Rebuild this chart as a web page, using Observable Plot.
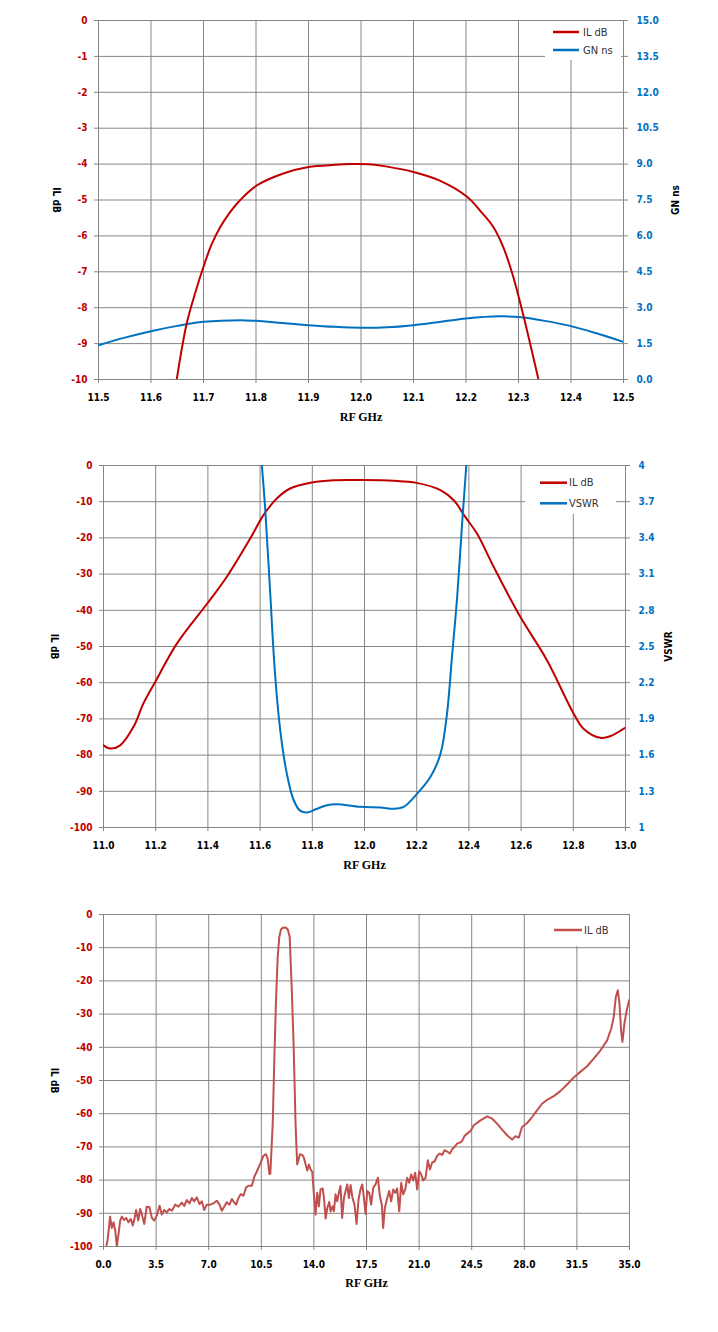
<!DOCTYPE html>
<html><head><meta charset="utf-8">
<script src="https://cdn.jsdelivr.net/npm/d3@7"></script>
<script src="https://cdn.jsdelivr.net/npm/@observablehq/plot@0.6"></script>
<style>
body{margin:0;background:#fff;}
svg{display:block}
</style></head><body><div id="c"></div>
<script>
// ---------- Chart 1 data: passband IL (dB) and group delay (ns) ----------
const x1Ticks = [11.5, 11.6, 11.7, 11.8, 11.9, 12.0, 12.1, 12.2, 12.3, 12.4, 12.5];
const y1Ticks = [0, -1, -2, -3, -4, -5, -6, -7, -8, -9, -10];
const gn1Ticks = [0, 1.5, 3, 4.5, 6, 7.5, 9, 10.5, 12, 13.5, 15];
const il1 = [[11.649,-10],[11.668,-8.44],[11.685,-7.55],[11.70,-6.86],[11.715,-6.25],[11.732,-5.75],[11.750,-5.35],[11.770,-5.0],[11.802,-4.59],[11.852,-4.26],[11.90,-4.08],[11.95,-4.02],[11.98,-4.0],[12.02,-4.01],[12.05,-4.07],[12.10,-4.22],[12.15,-4.46],[12.202,-4.91],[12.23,-5.35],[12.252,-5.75],[12.271,-6.31],[12.29,-7.14],[12.31,-8.26],[12.338,-10]];
const gn1 = [[11.5,1.43],[11.55,1.75],[11.6,2.02],[11.65,2.24],[11.7,2.41],[11.77,2.48],[11.8,2.45],[11.85,2.36],[11.9,2.27],[11.95,2.2],[12.0,2.16],[12.05,2.18],[12.1,2.27],[12.15,2.4],[12.2,2.55],[12.265,2.64],[12.3,2.61],[12.35,2.45],[12.4,2.23],[12.45,1.92],[12.5,1.57]];
const legend1 = ["IL dB", "GN ns"];

// ---------- Chart 2 data: IL (dB) and VSWR ----------
const x2Ticks = [11.0, 11.2, 11.4, 11.6, 11.8, 12.0, 12.2, 12.4, 12.6, 12.8, 13.0];
const y2Ticks = [0, -10, -20, -30, -40, -50, -60, -70, -80, -90, -100];
const vs2Ticks = [1, 1.3, 1.6, 1.9, 2.2, 2.5, 2.8, 3.1, 3.4, 3.7, 4];
const il2 = [[11.0,-77.3],[11.026,-78.2],[11.064,-77.3],[11.115,-72.2],[11.153,-65.7],[11.198,-59.8],[11.281,-49.2],[11.402,-37.7],[11.472,-30.8],[11.562,-20.2],[11.613,-13.7],[11.664,-9.1],[11.715,-6.35],[11.798,-4.7],[11.881,-4.05],[11.983,-4.0],[12.112,-4.2],[12.2,-4.8],[12.291,-6.8],[12.342,-9.6],[12.386,-14.2],[12.431,-18.8],[12.495,-28.0],[12.597,-41.8],[12.699,-53.8],[12.801,-68.5],[12.839,-72.7],[12.903,-75.2],[12.941,-74.8],[13.0,-72.4]];
const vs2 = [[11.600,4.25],[11.607,4.0],[11.619,3.66],[11.638,2.97],[11.657,2.28],[11.677,1.81],[11.702,1.45],[11.728,1.23],[11.753,1.14],[11.779,1.124],[11.811,1.149],[11.856,1.185],[11.894,1.193],[11.983,1.171],[12.061,1.166],[12.112,1.155],[12.15,1.171],[12.2,1.276],[12.253,1.42],[12.291,1.61],[12.316,1.94],[12.335,2.41],[12.355,2.91],[12.374,3.52],[12.39,4.0],[12.396,4.25]];
const legend2 = ["IL dB", "VSWR"];

// ---------- Chart 3 data: wideband IL (dB) ----------
const x3Ticks = [0, 3.5, 7, 10.5, 14, 17.5, 21, 24.5, 28, 31.5, 35];
const y3Ticks = [0, -10, -20, -30, -40, -50, -60, -70, -80, -90, -100];
const il3 = [[0.18,-100],[0.27,-98.2],[0.44,-91],[0.55,-94.4],[0.67,-92.7],[0.78,-95.2],[0.89,-100],[1.0,-96.2],[1.11,-92.2],[1.22,-91],[1.37,-92],[1.51,-91.4],[1.66,-92.7],[1.82,-91.7],[1.95,-93.7],[2.08,-91.2],[2.17,-89],[2.31,-92.2],[2.44,-88.7],[2.57,-90.7],[2.71,-93.2],[2.88,-88],[3.06,-88.2],[3.22,-91.4],[3.37,-92.2],[3.55,-90.7],[3.73,-87.7],[3.88,-90.4],[4.04,-89],[4.21,-89.7],[4.39,-88.7],[4.55,-89.2],[4.77,-87.4],[4.99,-88],[5.21,-86.8],[5.37,-87.8],[5.54,-86],[5.72,-87],[5.88,-85.4],[6.03,-86.4],[6.21,-85.2],[6.39,-87.2],[6.54,-86.4],[6.70,-89],[6.87,-87.4],[7.10,-87.4],[7.32,-87],[7.54,-86.2],[7.72,-87.4],[7.87,-89.2],[8.03,-88],[8.20,-86.7],[8.38,-87.4],[8.54,-85.7],[8.69,-86.7],[8.82,-87.4],[8.98,-85.4],[9.14,-84.2],[9.31,-84.7],[9.49,-82.2],[9.65,-81.7],[9.87,-81.7],[10.02,-79.2],[10.20,-77.4],[10.42,-75.2],[10.64,-72.7],[10.81,-72.2],[10.93,-73.7],[11.04,-78.2],[11.10,-78.1],[11.26,-63],[11.37,-42.9],[11.48,-25.8],[11.59,-12.8],[11.70,-6.7],[11.81,-4.5],[11.93,-4.0],[12.04,-3.9],[12.15,-4.0],[12.26,-4.5],[12.39,-6.7],[12.53,-22.8],[12.64,-37.9],[12.72,-52],[12.78,-63],[12.84,-70],[12.89,-75.3],[13.07,-72.2],[13.22,-72.4],[13.33,-73.2],[13.45,-75.3],[13.56,-77.1],[13.67,-75.3],[13.78,-76.8],[13.89,-77.5],[14.0,-84.3],[14.11,-90.4],[14.22,-83.8],[14.33,-87.9],[14.44,-82.8],[14.58,-82.5],[14.67,-85.4],[14.78,-91.6],[14.89,-88.4],[15.02,-86.6],[15.11,-89.4],[15.24,-87.9],[15.33,-89.4],[15.44,-84.3],[15.55,-86.4],[15.66,-83.8],[15.77,-81.8],[15.88,-91.4],[16.0,-85.4],[16.11,-83.3],[16.22,-81.3],[16.33,-85.4],[16.44,-81.5],[16.57,-85.4],[16.7,-87.4],[16.84,-93.2],[16.97,-85.9],[17.1,-82.8],[17.22,-81.3],[17.33,-85.4],[17.44,-90.2],[17.55,-83.3],[17.68,-83.8],[17.81,-87.4],[17.95,-82.3],[18.1,-81.3],[18.26,-79.3],[18.39,-84.8],[18.52,-87.4],[18.61,-94.4],[18.72,-88.4],[18.88,-85.4],[19.01,-83.3],[19.14,-86.4],[19.28,-82.8],[19.41,-83.8],[19.54,-82.5],[19.68,-89.4],[19.81,-80.8],[19.94,-84.3],[20.08,-82.8],[20.21,-79.3],[20.34,-80.8],[20.47,-78.3],[20.61,-80.1],[20.74,-77.8],[20.87,-82.8],[21.01,-77.3],[21.14,-78.3],[21.27,-80.1],[21.43,-79.3],[21.58,-74.0],[21.72,-76.8],[21.87,-74.7],[22.03,-74.4],[22.2,-72.7],[22.38,-72.0],[22.54,-72.4],[22.69,-71],[22.87,-71.4],[23.05,-72],[23.2,-70.7],[23.36,-70],[23.53,-69],[23.71,-68.7],[23.87,-68.2],[24.02,-66.7],[24.2,-66],[24.42,-65.2],[24.64,-63.5],[25.08,-62],[25.53,-60.8],[25.86,-61.5],[26.19,-63],[26.52,-64.8],[26.86,-66.5],[27.19,-67.8],[27.41,-66.8],[27.63,-67.2],[27.85,-64],[28.19,-62.8],[28.52,-61],[28.85,-59],[29.18,-57],[29.52,-55.8],[29.96,-54.7],[30.4,-53.2],[30.85,-51.2],[31.29,-49.1],[31.73,-47.4],[32.18,-45.7],[32.62,-43.4],[33.07,-40.9],[33.51,-37.9],[33.78,-34.4],[33.95,-30.9],[34.09,-24.8],[34.22,-22.8],[34.33,-26.8],[34.44,-34.9],[34.53,-38.4],[34.66,-32.9],[34.84,-28.3],[35.0,-25.6]];
const legend3 = ["IL dB"];

const xTitle = "RF GHz";
const ilTitle = "IL dB", gnTitle = "GN ns", vsTitle = "VSWR";

// ---------- styling ----------
const GRID = "#868686", RED = "#C00000", BLUE = "#0070C0", RED3 = "#C0504D";
const FONT = "'DejaVu Sans Condensed','DejaVu Sans',sans-serif";
const SERIF = "'Liberation Serif','DejaVu Serif',serif";

// right-axis mappings onto the left (dB) scale
const gnToY = v => v / 1.5 - 10;
const yToGn = d => ((d + 10) * 1.5).toFixed(1);
const vsToY = v => (v - 1) / 3 * 100 - 100;
const yToVs = d => String(Math.round(((d + 100) / 100 * 3 + 1) * 10) / 10);

function frameMarks(xT, yT, xDom, yDom) {
  return [
    Plot.gridX({ticks: xT, stroke: GRID, strokeOpacity: 1, strokeWidth: 1}),
    Plot.gridY({ticks: yT, stroke: GRID, strokeOpacity: 1, strokeWidth: 1}),
    Plot.ruleX([xDom[0]], {stroke: GRID}),
    Plot.ruleY([yDom[0]], {stroke: GRID}),
    Plot.axisX({ticks: xT, tickSize: 4, tickPadding: 10, stroke: GRID, fill: "black", fontWeight: "bold", tickFormat: d => d.toFixed(1), label: null}),
    Plot.axisY({ticks: yT, anchor: "left", tickSize: 4, tickPadding: 7, stroke: GRID, fill: RED, fontWeight: "bold", tickFormat: d => String(d), label: null})
  ];
}
function titleMarks(dxL, rightTitle, dxR, dyB) {
  const m = [
    Plot.text([ilTitle], {text: d => d, frameAnchor: "left", dx: dxL, rotate: 90, textAnchor: "middle", lineAnchor: "middle", fontWeight: "bold", fontSize: 10, fill: "black"}),
    Plot.text([xTitle], {text: d => d, frameAnchor: "bottom", dy: dyB, textAnchor: "middle", lineAnchor: "middle", fontFamily: SERIF, fontWeight: "bold", fontSize: 12, fill: "black"})
  ];
  if (rightTitle) m.push(Plot.text([rightTitle], {text: d => d, frameAnchor: "right", dx: dxR, rotate: -90, textAnchor: "middle", lineAnchor: "middle", fontWeight: "bold", fontSize: 10, fill: "black"}));
  return m;
}
function addLegend(svg, box, items) {
  const g = d3.select(svg).append("g").attr("text-anchor", "start");
  g.append("rect").attr("x", box.x).attr("y", box.y).attr("width", box.w).attr("height", box.h).attr("fill", "white");
  items.forEach(it => {
    g.append("line").attr("x1", box.lx1).attr("x2", box.lx2).attr("y1", it.y).attr("y2", it.y)
      .attr("stroke", it.color).attr("stroke-width", 2.5);
    g.append("text").attr("x", box.tx).attr("y", it.y).attr("dominant-baseline", "central")
      .attr("text-anchor", "start")
      .attr("font-family", FONT).attr("font-size", 11).attr("fill", "#333").text(it.label);
  });
}

const root = document.getElementById("c");

// ---------- Chart 1 ----------
const d1 = [11.5, 12.5], r1 = [-10, 0];
const p1 = Plot.plot({
  width: 718, height: 440, marginTop: 20, marginBottom: 61, marginLeft: 98, marginRight: 95,
  x: {domain: d1}, y: {domain: r1},
  style: {fontFamily: FONT, fontSize: "10px", background: "white"},
  marks: [
    ...frameMarks(x1Ticks, y1Ticks, d1, r1),
    Plot.axisY({ticks: gn1Ticks.map(gnToY), anchor: "right", tickSize: 4, tickPadding: 9, stroke: GRID, fill: BLUE, fontWeight: "bold", tickFormat: yToGn, label: null}),
    Plot.line(gn1, {x: d => d[0], y: d => gnToY(d[1]), stroke: BLUE, strokeWidth: 2, curve: "catmull-rom", clip: true}),
    Plot.line(il1, {x: d => d[0], y: d => d[1], stroke: RED, strokeWidth: 2, curve: "catmull-rom", clip: true}),
    ...titleMarks(-42, gnTitle, 52.5, 38)
  ]
});
root.appendChild(p1);
addLegend(p1, {x: 545, y: 21, w: 76, h: 39, lx1: 553, lx2: 579, tx: 583},
  [{label: legend1[0], color: RED, y: 32}, {label: legend1[1], color: BLUE, y: 50}]);

// ---------- Chart 2 ----------
const d2 = [11, 13], r2 = [-100, 0];
const p2 = Plot.plot({
  width: 718, height: 445, marginTop: 25, marginBottom: 58, marginLeft: 103, marginRight: 93,
  x: {domain: d2}, y: {domain: r2},
  style: {fontFamily: FONT, fontSize: "10px", background: "white"},
  marks: [
    ...frameMarks(x2Ticks, y2Ticks, d2, r2),
    Plot.axisY({ticks: vs2Ticks.map(vsToY), anchor: "right", tickSize: 4, tickPadding: 9, stroke: GRID, fill: BLUE, fontWeight: "bold", tickFormat: yToVs, label: null}),
    Plot.line(il2, {x: d => d[0], y: d => d[1], stroke: RED, strokeWidth: 2, curve: "catmull-rom", clip: true}),
    Plot.line(vs2, {x: d => d[0], y: d => vsToY(d[1]), stroke: BLUE, strokeWidth: 2, curve: "catmull-rom", clip: true}),
    ...titleMarks(-49, vsTitle, 43.5, 38)
  ]
});
root.appendChild(p2);
addLegend(p2, {x: 525, y: 26, w: 91, h: 48, lx1: 540, lx2: 567, tx: 569},
  [{label: legend2[0], color: RED, y: 42.7}, {label: legend2[1], color: BLUE, y: 63.3}]);

// ---------- Chart 3 ----------
const d3d = [0, 35], r3 = [-100, 0];
const p3 = Plot.plot({
  width: 718, height: 447, marginTop: 29, marginBottom: 86, marginLeft: 103, marginRight: 89,
  x: {domain: d3d}, y: {domain: r3},
  style: {fontFamily: FONT, fontSize: "10px", background: "white"},
  marks: [
    ...frameMarks(x3Ticks, y3Ticks, d3d, r3),
    Plot.line(il3, {x: d => d[0], y: d => d[1], stroke: RED3, strokeWidth: 2, clip: true}),
    ...titleMarks(-49, null, 0, 37)
  ]
});
root.appendChild(p3);
addLegend(p3, {x: 545, y: 30, w: 80, h: 31, lx1: 554, lx2: 582, tx: 584},
  [{label: legend3[0], color: RED3, y: 45}]);
</script></body></html>
